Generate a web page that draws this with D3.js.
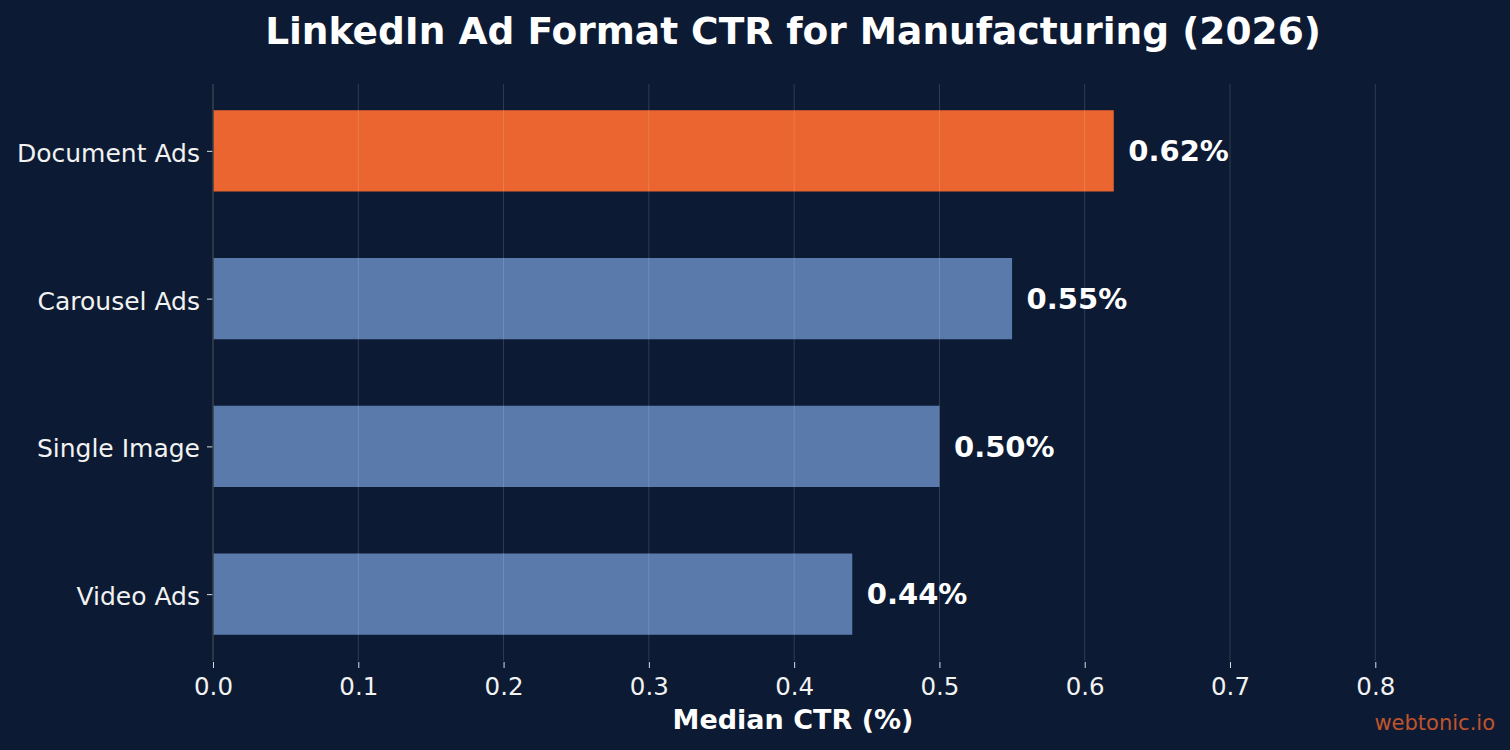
<!DOCTYPE html>
<html>
<head>
<meta charset="utf-8">
<script src="https://cdn.jsdelivr.net/npm/d3@7"></script>
<style>
  html, body { margin: 0; padding: 0; background: #0c1b33; }
  svg { display: block; font-family: "DejaVu Sans", sans-serif; }
</style>
</head>
<body>
<svg id="chart"></svg>
<script>
// chart data
var formats = ["Document Ads", "Carousel Ads", "Single Image", "Video Ads"];
var ctr = [0.62, 0.55, 0.50, 0.44];
var tickValues = [0, 0.1, 0.2, 0.3, 0.4, 0.5, 0.6, 0.7, 0.8];
var highlight = "Document Ads";

var W = 1510, H = 750;
var margin = {top: 84, right: 126, bottom: 89, left: 213},
    width = W - margin.left - margin.right,
    height = H - margin.top - margin.bottom;
var centerX = 793;

var svg = d3.select("#chart")
    .attr("width", W)
    .attr("height", H);

svg.append("rect")
    .attr("width", W)
    .attr("height", H)
    .attr("fill", "#0c1b33");

var chart = svg.append("g")
    .attr("transform", "translate(" + margin.left + "," + margin.top + ")");

// x: value scale, y: category index (matplotlib-like barh with 0.55 height + 5% margin)
var x = d3.scaleLinear()
    .domain([0, d3.max(ctr) * 1.3])
    .range([0, width]);

var barH = 0.55;
var pad = (formats.length - 1 + barH) * 0.05 + barH / 2;
var y = d3.scaleLinear()
    .domain([-pad, formats.length - 1 + pad])
    .range([0, height]);

var rows = formats.map(function(f, i) { return {name: f, value: ctr[i], i: i}; });

// bars
chart.selectAll(".bar")
    .data(rows)
  .enter().append("rect")
    .attr("class", "bar")
    .attr("x", x(0))
    .attr("y", function(d) { return y(d.i - barH / 2); })
    .attr("width", function(d) { return x(d.value) - x(0); })
    .attr("height", function(d) { return y(d.i + barH / 2) - y(d.i - barH / 2); })
    .attr("fill", function(d) { return d.name === highlight ? "#ea652f" : "#5a7aab"; });

// grid lines on top of bars
chart.selectAll(".grid")
    .data(tickValues.slice(1))
  .enter().append("line")
    .attr("x1", function(d) { return x(d); })
    .attr("x2", function(d) { return x(d); })
    .attr("y1", 0)
    .attr("y2", height)
    .attr("stroke", "#ffffff")
    .attr("stroke-opacity", 0.15)
    .attr("stroke-width", 1);

// value labels
chart.selectAll(".val")
    .data(rows)
  .enter().append("text")
    .attr("x", function(d) { return x(d.value + 0.01); })
    .attr("y", function(d) { return y(d.i); })
    .attr("dy", "0.35em")
    .attr("fill", "#ffffff")
    .attr("font-weight", "bold")
    .attr("font-size", "29px")
    .text(function(d) { return d.value.toFixed(2) + "%"; });

// x axis
var xAxis = chart.append("g")
    .attr("transform", "translate(0," + height + ")")
    .call(d3.axisBottom(x).tickValues(tickValues).tickFormat(d3.format(".1f")).tickSize(6).tickPadding(11));
xAxis.select(".domain").remove();
xAxis.selectAll(".tick line").attr("stroke", "#dddddd").attr("transform", "translate(0,1)");
xAxis.selectAll(".tick text").attr("fill", "#f2f2f2").attr("font-size", "24.5px")
    .attr("font-family", "DejaVu Sans");

// y axis
var yAxis = chart.append("g")
    .call(d3.axisLeft(y).tickValues(d3.range(formats.length))
      .tickFormat(function(i) { return formats[i]; }).tickSize(6).tickPadding(7));
yAxis.select(".domain").remove();
yAxis.selectAll(".tick line").attr("stroke", "#dddddd");
yAxis.selectAll(".tick text").attr("fill", "#f2f2f2").attr("font-size", "25px")
    .attr("dy", "0.42em")
    .attr("font-family", "DejaVu Sans");

// left spine
chart.append("line")
    .attr("x1", 0).attr("x2", 0)
    .attr("y1", 0).attr("y2", height)
    .attr("stroke", "#3a3f4a")
    .attr("stroke-width", 1.5);

// title and axis label
svg.append("text")
    .attr("x", centerX)
    .attr("y", 44)
    .attr("text-anchor", "middle")
    .attr("fill", "#ffffff")
    .attr("font-weight", "bold")
    .attr("font-size", "37.5px")
    .text("LinkedIn Ad Format CTR for Manufacturing (2026)");

svg.append("text")
    .attr("x", centerX)
    .attr("y", 729)
    .attr("text-anchor", "middle")
    .attr("fill", "#ffffff")
    .attr("font-weight", "bold")
    .attr("font-size", "27px")
    .text("Median CTR (%)");

svg.append("text")
    .attr("x", 1495)
    .attr("y", 730)
    .attr("text-anchor", "end")
    .attr("fill", "#c0532b")
    .attr("font-size", "21px")
    .text("webtonic.io");
</script>
</body>
</html>
